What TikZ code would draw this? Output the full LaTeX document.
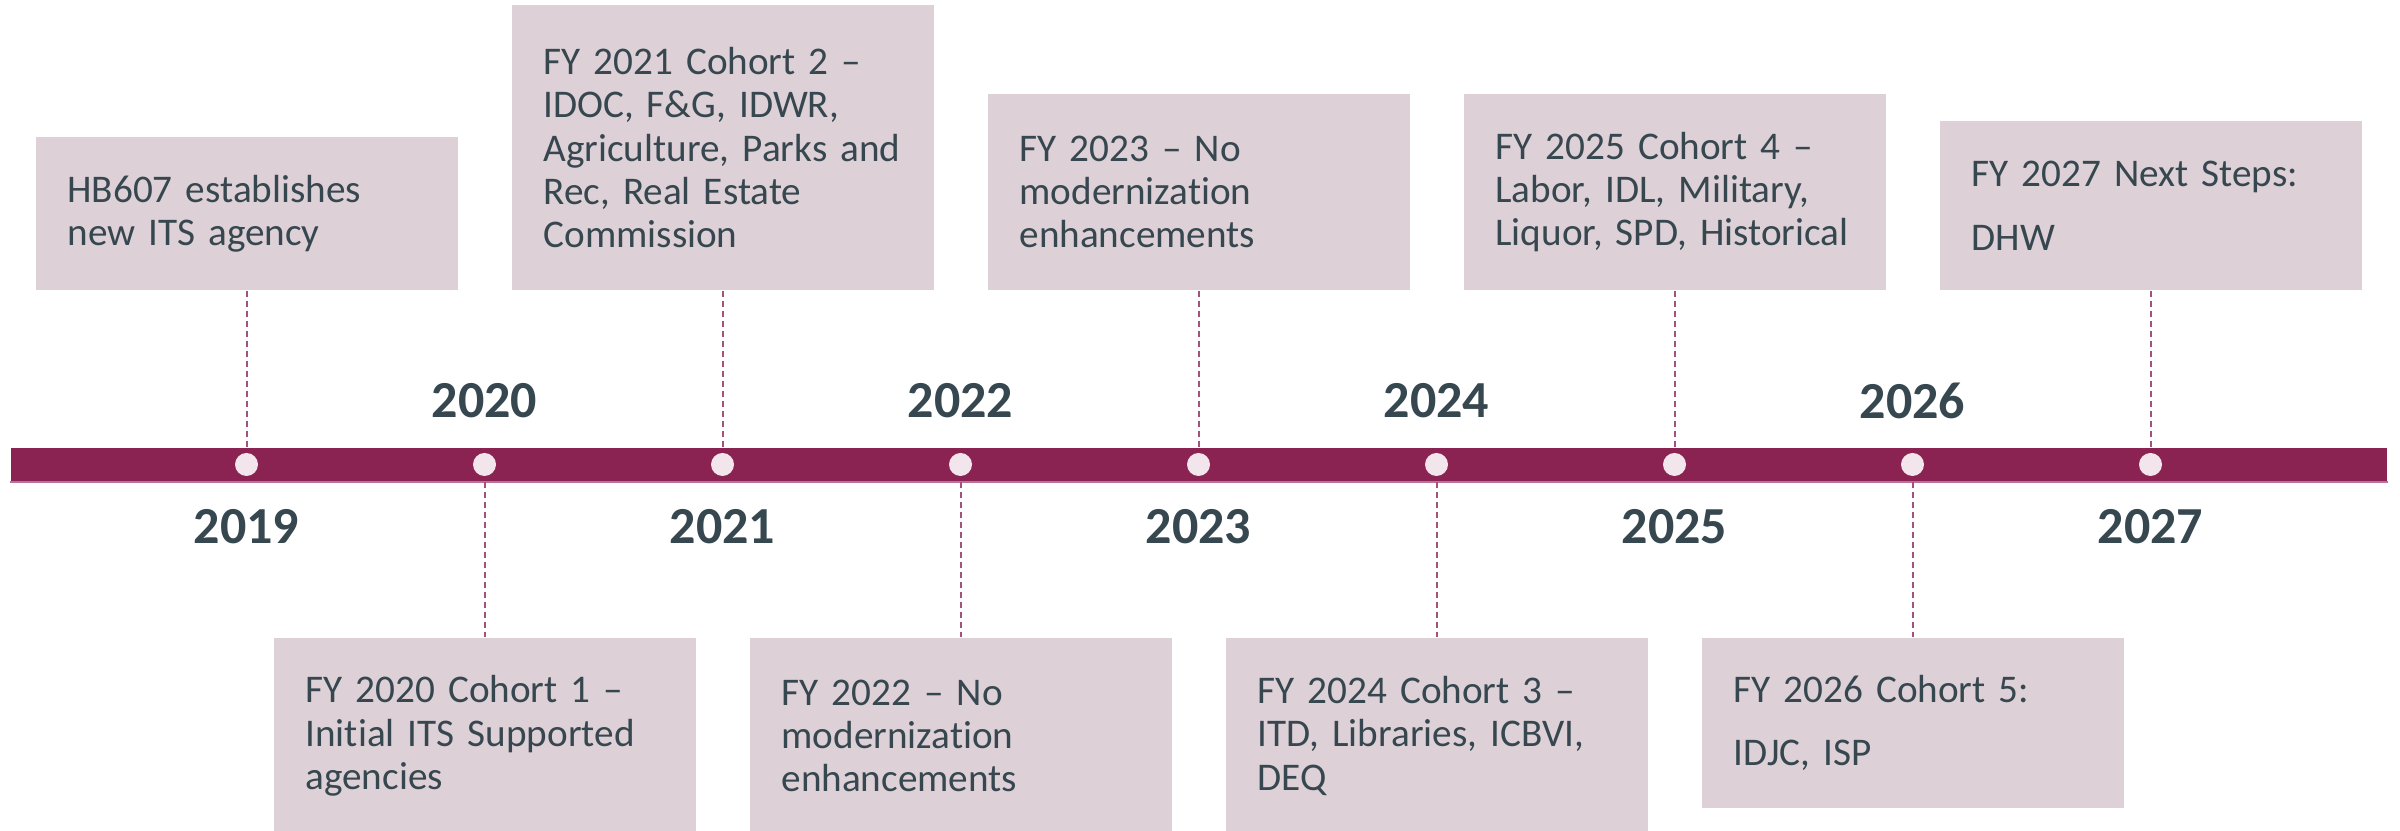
\documentclass[tikz,border=0pt]{standalone}
\usepackage{fontspec}
\setmainfont{Carlito}[Ligatures=NoCommon]
\usetikzlibrary{shapes.geometric}

\definecolor{barred}{HTML}{8A2252}
\definecolor{baredge}{HTML}{B9739A}
\definecolor{boxfill}{HTML}{DDD0D6}
\definecolor{inkgray}{HTML}{37474F}
\definecolor{dotpink}{HTML}{F2E5EC}
\definecolor{leaderred}{HTML}{A3527C}

\tikzset{
    event/.style={fill=boxfill, text=inkgray, text width=89.5pt, inner xsep=8pt,
        align=left, font=\fontsize{9.8}{10.8}\selectfont},
    topevent/.style={event, anchor=south},
    lowevent/.style={event, anchor=north},
    yearlbl/.style={text=inkgray, font=\fontsize{13}{15}\selectfont\bfseries},
    yeardot/.style={circle, fill=dotpink, minimum size=5.75pt, inner sep=0pt},
    leader/.style={leaderred, dash pattern=on 1.5pt off 1pt, line width=0.5pt},
    timebar/.style={fill=barred, minimum width=594pt, minimum height=8.25pt, inner sep=0pt}
}

\begin{document}
\begin{tikzpicture}[x=0.25pt, y=-0.25pt]
    \useasboundingbox (0,0) rectangle (2400,831);

    % events above the line
    \node[topevent, minimum height=38.25pt] (e19) at (246.5,291) {HB607 establishes\\new ITS agency};
    \node[topevent, minimum height=71.25pt] (e21) at (722.5,291) {FY 2021 Cohort 2 --\\IDOC, F\&G, IDWR,\\Agriculture, Parks and\\Rec, Real Estate\\Commission};
    \node[topevent, minimum height=49pt] (e23) at (1198.5,291) {FY 2023 -- No\\modernization\\enhancements};
    \node[topevent, minimum height=49pt] (e25) at (1674.5,291) {FY 2025 Cohort 4 --\\Labor, IDL, Military,\\Liquor, SPD, Historical};
    \node[topevent, minimum height=42.25pt] (e27) at (2150.5,291) {FY 2027 Next Steps:\\[5pt]DHW};

    % events below the line
    \node[lowevent, minimum height=49pt] (e20) at (484.5,637) {FY 2020 Cohort 1 --\\Initial ITS Supported\\agencies};
    \node[lowevent, minimum height=49pt] (e22) at (960.5,637) {FY 2022 -- No\\modernization\\enhancements};
    \node[lowevent, minimum height=49pt] (e24) at (1436.5,637) {FY 2024 Cohort 3 --\\ITD, Libraries, ICBVI,\\DEQ};
    \node[lowevent, minimum height=42.5pt] (e26) at (1912.5,637) {FY 2026 Cohort 5:\\[5pt]IDJC, ISP};

    % the time line
    \node[timebar] (bar) at (1199,464.5) {};
    \draw[baredge, line width=0.5pt] (bar.south west) -- (bar.south east);

    % leaders
    \draw[leader] (e19.south) -- (e19.south |- bar.north);
    \draw[leader] (e21.south) -- (e21.south |- bar.north);
    \draw[leader] (e23.south) -- (e23.south |- bar.north);
    \draw[leader] (e25.south) -- (e25.south |- bar.north);
    \draw[leader] (e27.south) -- (e27.south |- bar.north);
    \draw[leader] (bar.south -| e20.north) -- (e20.north);
    \draw[leader] (bar.south -| e22.north) -- (e22.north);
    \draw[leader] (bar.south -| e24.north) -- (e24.north);
    \draw[leader] (bar.south -| e26.north) -- (e26.north);

    % dots
    \node[yeardot] (d19) at (246.5,464.5) {};
    \node[yeardot] (d20) at (484.5,464.5) {};
    \node[yeardot] (d21) at (722.5,464.5) {};
    \node[yeardot] (d22) at (960.5,464.5) {};
    \node[yeardot] (d23) at (1198.5,464.5) {};
    \node[yeardot] (d24) at (1436.5,464.5) {};
    \node[yeardot] (d25) at (1674.5,464.5) {};
    \node[yeardot] (d26) at (1912.5,464.5) {};
    \node[yeardot] (d27) at (2150.5,464.5) {};

    % years
    \node[yearlbl] (y19) at (246.5,526.5) {2019};
    \node[yearlbl] (y20) at (484.5,400.5) {2020};
    \node[yearlbl] (y21) at (722.5,526.5) {2021};
    \node[yearlbl] (y22) at (960.5,400.5) {2022};
    \node[yearlbl] (y23) at (1198.5,526.5) {2023};
    \node[yearlbl] (y24) at (1436.5,400.5) {2024};
    \node[yearlbl] (y25) at (1674.5,526.5) {2025};
    \node[yearlbl] (y26) at (1912.5,400.5) {2026};
    \node[yearlbl] (y27) at (2150.5,526.5) {2027};
\end{tikzpicture}
\end{document}
